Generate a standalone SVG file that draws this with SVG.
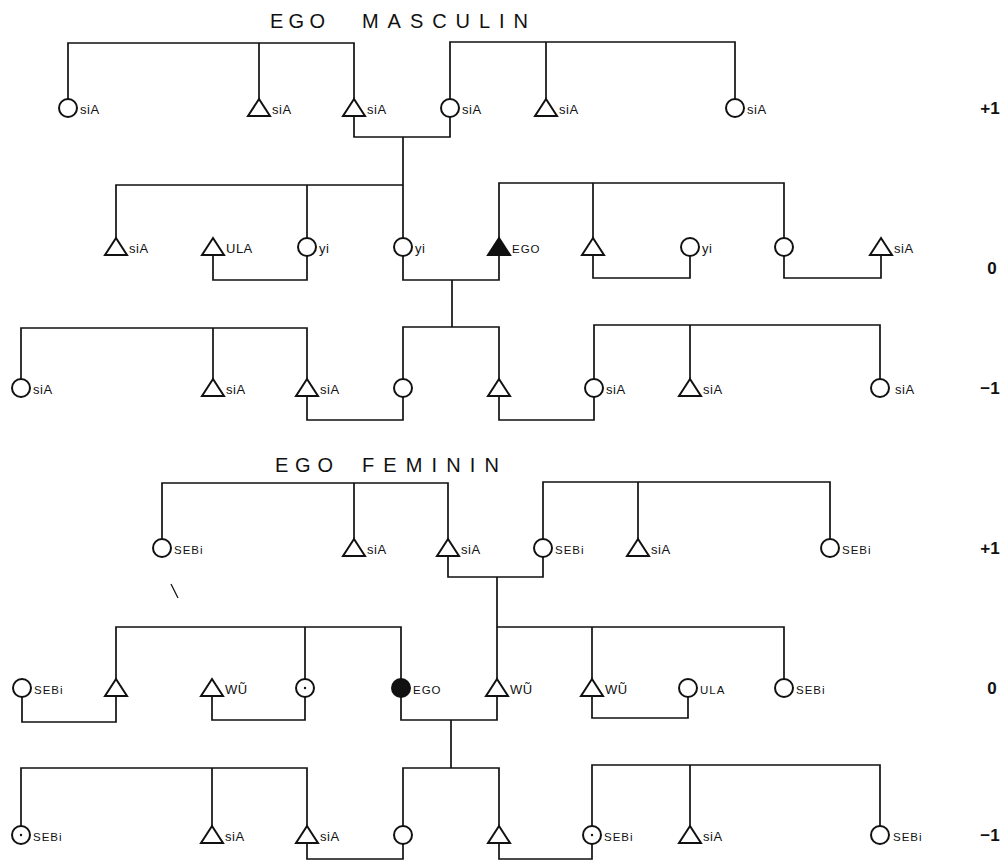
<svg xmlns="http://www.w3.org/2000/svg" xmlns:xlink="http://www.w3.org/1999/xlink" width="1007" height="861" viewBox="0 0 1007 861">
<style>
.ln{fill:none;stroke:#111;stroke-width:1.7}
.sym{fill:#fff;stroke:#111;stroke-width:2}
.blk{fill:#111;stroke:#111;stroke-width:2}
.lbl{font-family:"Liberation Sans",Arial,sans-serif;font-size:13px;fill:#111;letter-spacing:0.5px}
.sm{font-family:"Liberation Sans",Arial,sans-serif;font-size:11.5px;fill:#111;letter-spacing:1px}
.ttl{font-family:"Liberation Sans",Arial,sans-serif;font-size:20px;fill:#111}
.lvl{font-family:"Liberation Sans",Arial,sans-serif;font-size:17px;font-weight:bold;fill:#111;text-anchor:middle}
</style>
<defs>
<path id="tri" d="M0,-9 L11,8 L-11,8 Z"/>
<circle id="cir" r="9"/>
</defs>
<rect width="1007" height="861" fill="#fff"/>

<g id="titles">
<text class="ttl" x="270" y="28" textLength="55" lengthAdjust="spacing">EGO</text>
<text class="ttl" x="362" y="28" textLength="166" lengthAdjust="spacing">MASCULIN</text>
<text class="ttl" x="275" y="472" textLength="58" lengthAdjust="spacing">EGO</text>
<text class="ttl" x="362" y="472" textLength="137" lengthAdjust="spacing">FEMININ</text>
</g>

<g id="levels">
<text class="lvl" x="990" y="114">+1</text>
<text class="lvl" x="992" y="274">0</text>
<text class="lvl" x="990" y="394">−1</text>
<text class="lvl" x="990" y="554">+1</text>
<text class="lvl" x="992" y="694">0</text>
<text class="lvl" x="990" y="841">−1</text>
</g>

<g id="connectors">
<!-- ego masculin -->
<path class="ln" d="M68,99 V43 H354 V99 M259,43 V100"/>
<path class="ln" d="M450,99 V42 H735 V99 M546,42 V100"/>
<path class="ln" d="M354,116 V137 H450 V117"/>
<path class="ln" d="M403,137 V238"/>
<path class="ln" d="M116,239 V185 H403 M307,185 V238"/>
<path class="ln" d="M499,239 V183 H784 V238 M593,183 V239"/>
<path class="ln" d="M213,255 V280 H307 V256"/>
<path class="ln" d="M403,256 V280 H499 V255"/>
<path class="ln" d="M452,280 V327"/>
<path class="ln" d="M403,379 V327 H499 V380"/>
<path class="ln" d="M593,255 V278 H690 V256"/>
<path class="ln" d="M784,256 V278 H881 V255"/>
<path class="ln" d="M21,379 V328 H307 V380 M213,328 V380"/>
<path class="ln" d="M594,379 V325 H880 V379 M690,325 V380"/>
<path class="ln" d="M307,396 V420 H403 V397"/>
<path class="ln" d="M499,396 V420 H594 V397"/>
<!-- ego feminin -->
<path class="ln" d="M162,539 V483 H448 V540 M354,483 V540"/>
<path class="ln" d="M543,539 V482 H830 V539 M638,482 V540"/>
<path class="ln" d="M448,556 V577 H543 V557"/>
<path class="ln" d="M497,577 V680"/>
<path class="ln" d="M116,680 V627 H401 V679 M305,627 V679"/>
<path class="ln" d="M497,627 H784 V679 M592,627 V680"/>
<path class="ln" d="M22,697 V722 H116 V696"/>
<path class="ln" d="M212,696 V720 H305 V697"/>
<path class="ln" d="M401,697 V720 H497 V696"/>
<path class="ln" d="M592,696 V718 H688 V697"/>
<path class="ln" d="M451,720 V768"/>
<path class="ln" d="M21,826 V768 H307 V827 M212,768 V827"/>
<path class="ln" d="M403,826 V768 H499 V827"/>
<path class="ln" d="M592,826 V765 H880 V826 M690,765 V827"/>
<path class="ln" d="M307,843 V859 H403 V844"/>
<path class="ln" d="M499,843 V859 H592 V844"/>
<path class="ln" d="M171,584 L178,598" style="stroke-width:1.2"/>
</g>

<!-- EGO MASCULIN, +1 -->
<g id="m1a"><use xlink:href="#cir" class="sym" x="68" y="108"/><text class="lbl" x="80" y="114">siA</text></g>
<g id="m1b"><use xlink:href="#tri" class="sym" x="259" y="108"/><text class="lbl" x="272" y="114">siA</text></g>
<g id="m1c"><use xlink:href="#tri" class="sym" x="354" y="108"/><text class="lbl" x="367" y="114">siA</text></g>
<g id="m1d"><use xlink:href="#cir" class="sym" x="450" y="108"/><text class="lbl" x="462" y="114">siA</text></g>
<g id="m1e"><use xlink:href="#tri" class="sym" x="546" y="108"/><text class="lbl" x="559" y="114">siA</text></g>
<g id="m1f"><use xlink:href="#cir" class="sym" x="735" y="108"/><text class="lbl" x="747" y="114">siA</text></g>
<!-- EGO MASCULIN, 0 -->
<g id="m0a"><use xlink:href="#tri" class="sym" x="116" y="247"/><text class="lbl" x="129" y="253">siA</text></g>
<g id="m0b"><use xlink:href="#tri" class="sym" x="213" y="247"/><text class="lbl" x="226" y="253">ULA</text></g>
<g id="m0c"><use xlink:href="#cir" class="sym" x="307" y="247"/><text class="lbl" x="319" y="253">yi</text></g>
<g id="m0d"><use xlink:href="#cir" class="sym" x="403" y="247"/><text class="lbl" x="415" y="253">yi</text></g>
<g id="m0e"><use xlink:href="#tri" class="blk" x="499" y="247"/><text class="sm" x="512" y="253">EGO</text></g>
<g id="m0f"><use xlink:href="#tri" class="sym" x="593" y="247"/></g>
<g id="m0g"><use xlink:href="#cir" class="sym" x="690" y="247"/><text class="lbl" x="702" y="253">yi</text></g>
<g id="m0h"><use xlink:href="#cir" class="sym" x="784" y="247"/></g>
<g id="m0i"><use xlink:href="#tri" class="sym" x="881" y="247"/><text class="lbl" x="894" y="253">siA</text></g>
<!-- EGO MASCULIN, -1 -->
<g id="mma"><use xlink:href="#cir" class="sym" x="21" y="388"/><text class="lbl" x="33" y="394">siA</text></g>
<g id="mmb"><use xlink:href="#tri" class="sym" x="213" y="388"/><text class="lbl" x="226" y="394">siA</text></g>
<g id="mmc"><use xlink:href="#tri" class="sym" x="307" y="388"/><text class="lbl" x="320" y="394">siA</text></g>
<g id="mmd"><use xlink:href="#cir" class="sym" x="403" y="388"/></g>
<g id="mme"><use xlink:href="#tri" class="sym" x="499" y="388"/></g>
<g id="mmf"><use xlink:href="#cir" class="sym" x="594" y="388"/><text class="lbl" x="606" y="394">siA</text></g>
<g id="mmg"><use xlink:href="#tri" class="sym" x="690" y="388"/><text class="lbl" x="703" y="394">siA</text></g>
<g id="mmh"><use xlink:href="#cir" class="sym" x="880" y="388"/><text class="lbl" x="895" y="394">siA</text></g>

<!-- EGO FEMININ, +1 -->
<g id="f1a"><use xlink:href="#cir" class="sym" x="162" y="548"/><text class="sm" x="174" y="554">SEBi</text></g>
<g id="f1b"><use xlink:href="#tri" class="sym" x="354" y="548"/><text class="lbl" x="367" y="554">siA</text></g>
<g id="f1c"><use xlink:href="#tri" class="sym" x="448" y="548"/><text class="lbl" x="461" y="554">siA</text></g>
<g id="f1d"><use xlink:href="#cir" class="sym" x="543" y="548"/><text class="sm" x="555" y="554">SEBi</text></g>
<g id="f1e"><use xlink:href="#tri" class="sym" x="638" y="548"/><text class="lbl" x="651" y="554">siA</text></g>
<g id="f1f"><use xlink:href="#cir" class="sym" x="830" y="548"/><text class="sm" x="842" y="554">SEBi</text></g>
<!-- EGO FEMININ, 0 -->
<g id="f0a"><use xlink:href="#cir" class="sym" x="22" y="688"/><text class="sm" x="34" y="694">SEBi</text></g>
<g id="f0b"><use xlink:href="#tri" class="sym" x="116" y="688"/></g>
<g id="f0c"><use xlink:href="#tri" class="sym" x="212" y="688"/><text class="lbl" x="225" y="694">WŨ</text></g>
<g id="f0d"><use xlink:href="#cir" class="sym" x="305" y="688"/><circle cx="305" cy="688" r="1.2" fill="#111"/></g>
<g id="f0e"><use xlink:href="#cir" class="blk" x="401" y="688"/><text class="sm" x="413" y="694">EGO</text></g>
<g id="f0f"><use xlink:href="#tri" class="sym" x="497" y="688"/><text class="lbl" x="510" y="694">WŨ</text></g>
<g id="f0g"><use xlink:href="#tri" class="sym" x="592" y="688"/><text class="lbl" x="605" y="694">WŨ</text></g>
<g id="f0h"><use xlink:href="#cir" class="sym" x="688" y="688"/><text class="sm" x="700" y="694">ULA</text></g>
<g id="f0i"><use xlink:href="#cir" class="sym" x="784" y="688"/><text class="sm" x="796" y="694">SEBi</text></g>
<!-- EGO FEMININ, -1 -->
<g id="fma"><use xlink:href="#cir" class="sym" x="21" y="835"/><circle cx="21" cy="835" r="1.2" fill="#111"/><text class="sm" x="33" y="841">SEBi</text></g>
<g id="fmb"><use xlink:href="#tri" class="sym" x="212" y="835"/><text class="lbl" x="225" y="841">siA</text></g>
<g id="fmc"><use xlink:href="#tri" class="sym" x="307" y="835"/><text class="lbl" x="320" y="841">siA</text></g>
<g id="fmd"><use xlink:href="#cir" class="sym" x="403" y="835"/></g>
<g id="fme"><use xlink:href="#tri" class="sym" x="499" y="835"/></g>
<g id="fmf"><use xlink:href="#cir" class="sym" x="592" y="835"/><circle cx="592" cy="835" r="1.2" fill="#111"/><text class="sm" x="604" y="841">SEBi</text></g>
<g id="fmg"><use xlink:href="#tri" class="sym" x="690" y="835"/><text class="lbl" x="703" y="841">siA</text></g>
<g id="fmh"><use xlink:href="#cir" class="sym" x="880" y="835"/><text class="sm" x="893" y="841">SEBi</text></g>
</svg>
